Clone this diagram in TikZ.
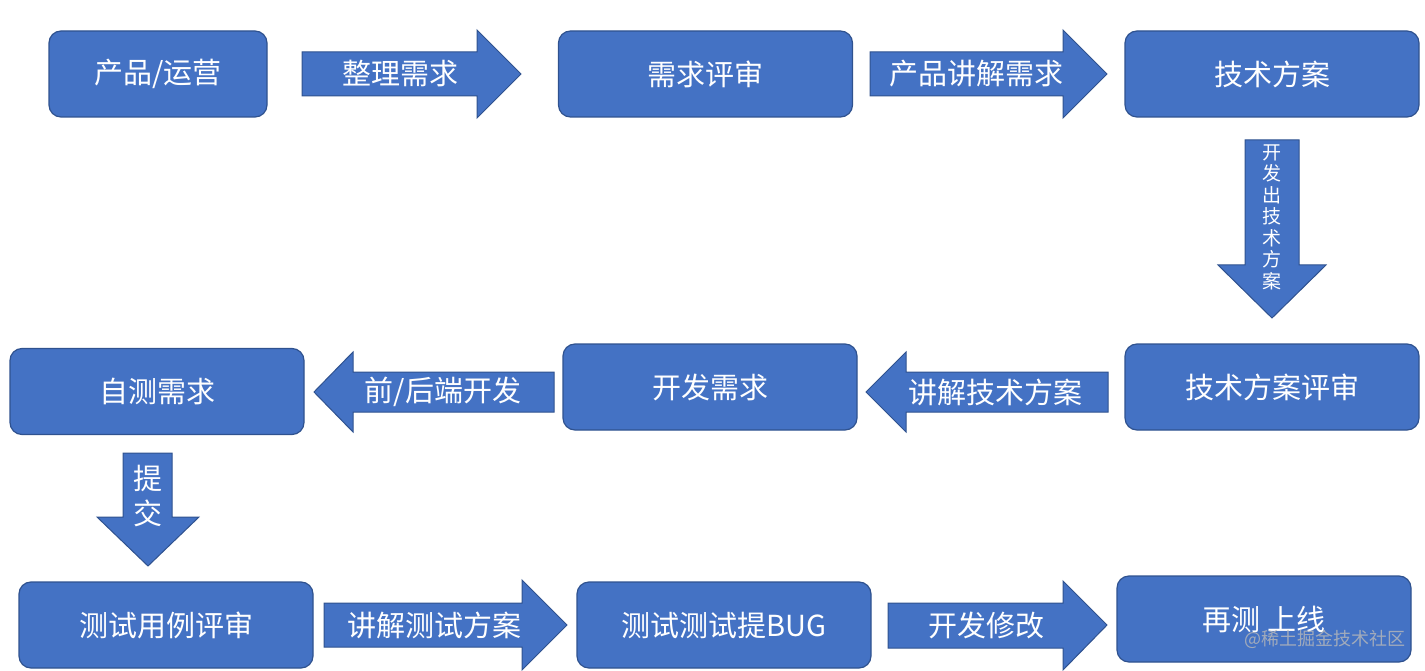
\documentclass[tikz,border=0pt]{standalone}
\usepackage{fontspec}
\newfontfamily\cjk{Noto Sans CJK SC}
\usetikzlibrary{positioning}
\definecolor{boxblue}{HTML}{4472C4}
\definecolor{boxline}{HTML}{2F528F}
\tikzset{box/.style={draw=boxline, fill=boxblue, line width=1.2pt, rounded corners=12pt, minimum width=294pt, minimum height=86pt, inner sep=0pt, text=white, font=\cjk\fontsize{29}{34}\selectfont}}
\tikzset{arr/.style={draw=boxline, fill=boxblue, line width=1pt}}
\tikzset{lbl/.style={text=white, inner sep=0pt, font=\cjk\fontsize{29}{34}\selectfont}}
\tikzset{vlbl/.style={text=white, inner sep=0pt, align=center, font=\cjk\fontsize{19}{21.5}\selectfont}}

\begin{document}
\begin{tikzpicture}[x=1pt, y=-1pt]
\useasboundingbox (0,0) rectangle (1425,671);

% boxes
\node[box, minimum width=218pt] (prod) at (158,74) {产品/运营};
\node[box] (reqrev) at (705.5,74) {需求评审};
\node[box] (tech) at (1272,74) {技术方案};
\node[box] (techrev) at (1272,387) {技术方案评审};
\node[box] (devreq) at (710,387) {开发需求};
\node[box] (selftest) at (157,391.5) {自测需求};
\node[box] (caserev) at (166,625) {测试用例评审};
\node[box] (bugtest) at (724,625) {测试测试提BUG};
\node[box] (release) at (1264,619) {再测 上线};

% block arrows
\draw[arr] (302,52) -- (477,52) -- (477,30) -- (521,74) -- (477,118) -- (477,96) -- (302,96) -- cycle;
\draw[arr] (870,52) -- (1063,52) -- (1063,30) -- (1107,74) -- (1063,118) -- (1063,96) -- (870,96) -- cycle;
\draw[arr] (1245,140) -- (1299,140) -- (1299,265) -- (1326,265) -- (1272,318) -- (1218,265) -- (1245,265) -- cycle;
\draw[arr] (1108,372) -- (906,372) -- (906,352) -- (866,392) -- (906,432) -- (906,412) -- (1108,412) -- cycle;
\draw[arr] (554,372) -- (353,372) -- (353,352) -- (314,392) -- (353,432) -- (353,412) -- (554,412) -- cycle;
\draw[arr] (123,453) -- (172,453) -- (172,517) -- (199,517) -- (148,566) -- (97,517) -- (123,517) -- cycle;
\draw[arr] (324,603) -- (522,603) -- (522,580) -- (567,625) -- (522,670) -- (522,647) -- (324,647) -- cycle;
\draw[arr] (888,603) -- (1063,603) -- (1063,581) -- (1107,625) -- (1063,670) -- (1063,648) -- (888,648) -- cycle;

% arrow labels
\node[lbl] (lsort) at (400,74) {整理需求};
\node[lbl] (lexplain) at (976,74) {产品讲解需求};
\node[vlbl] (lplan) at (1272,217) {开\\发\\出\\技\\术\\方\\案};
\node[lbl] (ltech) at (995,392) {讲解技术方案};
\node[lbl] (lcode) at (443,392) {前/后端开发};
\node[vlbl, font=\cjk\fontsize{29}{35}\selectfont] (lsubmit) at (148,496) {提\\交};
\node[lbl] (ltest) at (434,625) {讲解测试方案};
\node[lbl] (lfix) at (986,625) {开发修改};

\node[text=gray!55, opacity=0.8, inner sep=0pt, font=\cjk\fontsize{18}{20}\selectfont] (mark) at (1325,639) {@稀土掘金技术社区};
\end{tikzpicture}
\end{document}
